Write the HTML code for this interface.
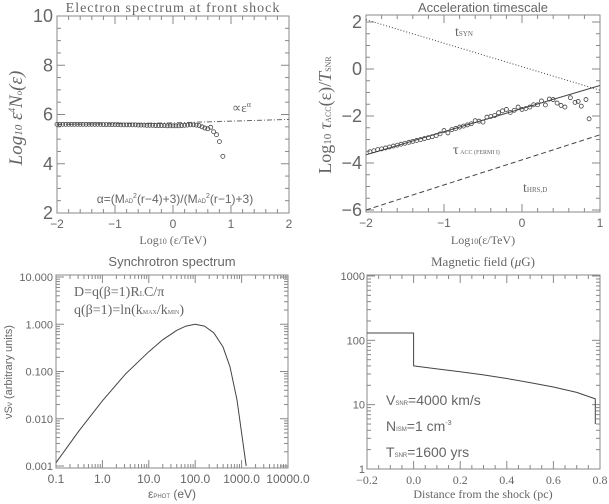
<!DOCTYPE html>
<html><head><meta charset="utf-8"><style>
html,body{margin:0;padding:0;background:#fff;}
svg{display:block;font-family:"Liberation Sans",sans-serif;}
text{fill:#666;}
</style></head><body>
<svg id="s" width="609" height="504" viewBox="0 0 609 504"></svg>
<script>
// Panel 1 data
const p1X = [-2,-1.95,-1.9,-1.85,-1.8,-1.75,-1.7,-1.65,-1.6,-1.55,-1.5,-1.45,-1.4,-1.35,-1.3,-1.25,-1.2,-1.15,-1.1,-1.05,-1,-0.95,-0.9,-0.85,-0.8,-0.75,-0.7,-0.65,-0.6,-0.55,-0.5,-0.45,-0.4,-0.35,-0.3,-0.25,-0.2,-0.15,-0.1,-0.05,0,0.05,0.1,0.15,0.2,0.25,0.3,0.35,0.4,0.45,0.5,0.55,0.6,0.65,0.7,0.75,0.8,0.86];
const p1Y = [5.6,5.6,5.6,5.6,5.6,5.6,5.6,5.6,5.6,5.6,5.6,5.6,5.6,5.6,5.6,5.6,5.59,5.59,5.59,5.59,5.59,5.59,5.58,5.58,5.58,5.58,5.58,5.58,5.57,5.57,5.57,5.56,5.56,5.56,5.55,5.55,5.55,5.55,5.54,5.54,5.54,5.54,5.54,5.55,5.56,5.57,5.58,5.58,5.57,5.55,5.5,5.45,5.42,5.48,5.3,5.18,4.9,4.3];
const p1LineX = [-2,0,2];
const p1LineY = [5.6,5.66,5.8];
// Panel 2 data
const p2X = [-1.95,-1.9,-1.85,-1.8,-1.75,-1.7,-1.65,-1.6,-1.55,-1.5,-1.45,-1.4,-1.35,-1.3,-1.25,-1.2,-1.15,-1.1,-1.05,-1.0,-0.95,-0.9,-0.85,-0.8,-0.75,-0.7,-0.65,-0.6,-0.55,-0.5,-0.45,-0.4,-0.35,-0.3,-0.25,-0.2,-0.15,-0.1,-0.05,0.0,0.05,0.1,0.15,0.2,0.25,0.3,0.35,0.4,0.45,0.5,0.55,0.62,0.68,0.72,0.76,0.82,0.86];
const p2Y = [-3.52,-3.48,-3.43,-3.40,-3.36,-3.32,-3.28,-3.24,-3.20,-3.16,-3.12,-3.08,-3.04,-3.00,-2.96,-2.92,-2.88,-2.83,-2.76,-2.62,-2.72,-2.58,-2.53,-2.47,-2.43,-2.38,-2.33,-2.20,-2.22,-2.26,-2.05,-2.02,-1.98,-1.86,-1.78,-1.72,-1.85,-1.76,-1.62,-1.72,-1.68,-1.62,-1.52,-1.52,-1.36,-1.53,-1.28,-1.30,-1.45,-1.55,-1.62,-1.22,-1.42,-1.38,-1.58,-1.30,-2.12];
const accX = [-2,1], accY = [-3.65,-0.7];
const synX = [-2,1], synY = [2.1,-0.9];
const diffX = [-2,1], diffY = [-6,-2.8];
// Panel 3 data (log10 eV, log10 S)
const p3X = [-1,-0.5,0,0.5,1,1.3,1.6,1.8,2,2.2,2.4,2.6,2.75,2.9,3.0,3.1];
const p3Y = [-2.93,-2.25,-1.62,-1.05,-0.58,-0.33,-0.13,-0.04,0,-0.04,-0.18,-0.48,-0.9,-1.6,-2.3,-3.0];
// Panel 4 data
const p4X = [-0.2,0,0,0.1,0.2,0.3,0.4,0.5,0.6,0.7,0.78,0.78];
const p4Y = [130,130,40,36,32.5,29,25.5,22,18.8,15.5,12.3,5];

const S=document.getElementById('s');
const NS='http://www.w3.org/2000/svg';
function mk(t,a,par){const e=document.createElementNS(NS,t);for(const k in a)e.setAttribute(k,a[k]);(par||S).appendChild(e);return e;}
function txt(x,y,s,o,par){o=o||{};const e=mk('text',Object.assign({x:x,y:y,'font-size':o.fs||11,'text-anchor':o.a||'middle'},o.attr||{}),par);e.innerHTML=s;return e;}
function lin(d0,d1,r0,r1){return v=>r0+(v-d0)/(d1-d0)*(r1-r0);}
function grp(name){const g=mk('g',{});return g;}
function box(g,x0,y0,x1,y1){mk('rect',{x:x0,y:y0,width:x1-x0,height:y1-y0,fill:'none',stroke:'#888','stroke-width':1},g);}
function tick(g,x1,y1,x2,y2){mk('line',{x1:x1,y1:y1,x2:x2,y2:y2,stroke:'#888','stroke-width':1},g);}
function linTicks(g,sx,sy,x0,y0,x1,y1,xt,xminor,yt,yminor,xlab,ylab){
  for(let v=xminor[0];v<=xminor[1]+1e-9;v+=xminor[2]){const x=sx(v);const big=xt.some(t=>Math.abs(t-v)<1e-6);const L=big?8:4;tick(g,x,y1,x,y1-L);tick(g,x,y0,x,y0+L);}
  for(let v=yminor[0];v<=yminor[1]+1e-9;v+=yminor[2]){const y=sy(v);const big=yt.some(t=>Math.abs(t-v)<1e-6);const L=big?8:4;tick(g,x0,y,x0+L,y);tick(g,x1,y,x1-L,y);}
  xt.forEach((v,i)=>txt(sx(v),y1+15,xlab[i],{fs:12},g));
  yt.forEach((v,i)=>txt(x0-4,sy(v)+6,ylab[i],{fs:18,a:'end'},g));
}
function path(g,xs,ys,sx,sy,attr){let d='';xs.forEach((v,i)=>{d+=(i?'L':'M')+sx(v).toFixed(1)+','+sy(ys[i]).toFixed(1);});return mk('path',Object.assign({d:d,fill:'none',stroke:'#444','stroke-width':1,'stroke-linejoin':'round'},attr||{}),g);}

// ---------- Panel 1
(function(){
const g=grp('electron-spectrum-panel');
const x0=57,x1=289,y0=16,y1=213;
const sx=lin(-2,2,x0,x1), sy=lin(2,10,y1,y0);
box(g,x0,y0,x1,y1);
linTicks(g,sx,sy,x0,y0,x1,y1,[-2,-1,0,1,2],[-2,2,0.2],[2,4,6,8,10],[2,10,0.5],['−2','−1','0','1','2'],['2','4','6','8','10']);
txt(173,12,'Electron spectrum at front shock',{fs:14,attr:{'font-family':'Liberation Serif','letter-spacing':'1'}},g);
txt(173,244,'Log<tspan font-size="8">10</tspan> (ε/TeV)',{fs:12,attr:{'font-family':'Liberation Serif'}},g);
const yl=txt(0,0,'Log<tspan font-size="11">10</tspan> ε<tspan font-size="9" dy="-7">4</tspan><tspan dy="7">N</tspan><tspan font-size="9">o</tspan>(ε)',{fs:19,attr:{'font-family':'Liberation Serif','font-style':'italic',transform:'translate(22,118) rotate(-90)'}},g);

path(g,p1LineX,p1LineY,sx,sy,{'stroke-dasharray':'5,2,1,2',stroke:'#666'});
p1X.forEach((v,i)=>{const c=mk('circle',{cx:sx(v),cy:sy(p1Y[i]),r:2,fill:'none',stroke:'#444','stroke-width':0.8},g);});
txt(232,112,'∝ε<tspan font-size="8" dy="-5">α</tspan>',{fs:13,a:'start',attr:{'font-family':'Liberation Serif'}},g);
txt(175,203,'α=(M<tspan font-size="6">AD</tspan><tspan font-size="7" dy="-5">2</tspan><tspan dy="5">(r−4)+3)/(M</tspan><tspan font-size="6">AD</tspan><tspan font-size="7" dy="-5">2</tspan><tspan dy="5">(r−1)+3)</tspan>',{fs:12,attr:{fill:'#333'}},g);
})();

// ---------- Panel 2
(function(){
const g=grp('acceleration-timescale-panel');
const x0=366,x1=600,y0=15,y1=212;
const sx=lin(-2,1,x0,x1), sy=lin(-6,2,210,22);
box(g,x0,y0,x1,y1);
linTicks(g,sx,sy,x0,y0,x1,y1,[-2,-1,0,1],[-2,1,0.2],[-6,-4,-2,0,2],[-6,2,0.5],['−2','−1','0','1'],['−6','−4','−2','0','2']);
txt(483,12,'Acceleration timescale',{fs:13},g);
txt(483,244,'Log<tspan font-size="8">10</tspan>(ε/TeV)',{fs:12,attr:{'font-family':'Liberation Serif'}},g);
const yl=txt(0,0,'Log<tspan font-size="11">10</tspan> <tspan font-style="italic">τ</tspan><tspan font-size="8">ACC</tspan>(ε)/<tspan font-style="italic">T</tspan><tspan font-size="8">SNR</tspan>',{fs:18,attr:{'font-family':'Liberation Serif',transform:'translate(331,115) rotate(-90)'}},g);

path(g,synX,synY,sx,sy,{'stroke-dasharray':'1,2'});
path(g,accX,accY,sx,sy,{});
path(g,diffX,diffY,sx,sy,{'stroke-dasharray':'5,3'});
p2X.forEach((v,i)=>{const c=mk('circle',{cx:sx(v),cy:sy(p2Y[i]),r:2,fill:'none',stroke:'#444','stroke-width':0.8},g);});
txt(455,36,'t<tspan font-size="7">SYN</tspan>',{fs:14,a:'start',attr:{'font-family':'Liberation Serif'}},g);
txt(453,154,'τ<tspan font-size="6"> ACC (FERMI I)</tspan>',{fs:14,a:'start',attr:{'font-family':'Liberation Serif',fill:'#333'}},g);
txt(523,192,'t<tspan font-size="7">HRS,D</tspan>',{fs:14,a:'start',attr:{'font-family':'Liberation Serif'}},g);
})();

// ---------- Panel 3
(function(){
const g=grp('synchrotron-spectrum-panel');
const x0=56,x1=288,y0=275,y1=468;
const sx=lin(-1,4,x0,x1), sy=lin(-3,1,466,277);
box(g,x0,y0,x1,y1);
for(let d=-1;d<=4;d++){for(let m=1;m<10;m++){const v=d+Math.log10(m);if(v>4+1e-9)break;const x=sx(v);const L=m==1?8:4;tick(g,x,y1,x,y1-L);tick(g,x,y0,x,y0+L);}}
for(let d=-3;d<=1;d++){for(let m=1;m<10;m++){const v=d+Math.log10(m);if(v>1+1e-9)break;const y=sy(v);const L=m==1?8:4;tick(g,x0,y,x0+L,y);tick(g,x1,y,x1-L,y);}}
const xl=['0.1','1.0','10.0','100.0','1000.0','10000.0'];
xl.forEach((s,i)=>txt(sx(i-1),y1+15,s,{fs:12},g));
const yls=['0.001','0.010','0.100','1.000','10.000'];
yls.forEach((s,i)=>txt(x0-3,sy(i-3)+4,s,{fs:11,a:'end'},g));
txt(172,266,'Synchrotron spectrum',{fs:13},g);
txt(172,498,'ε<tspan font-size="6">PHOT</tspan> (eV)',{fs:12},g);
const yl=txt(0,0,'νS<tspan font-size="8">ν</tspan> (arbitrary units)',{fs:11,attr:{transform:'translate(12,372) rotate(-90)'}},g);

path(g,p3X,p3Y,sx,sy,{});
txt(74,296,'D=q(β=1)R<tspan font-size="7">L</tspan>C/π',{fs:14,a:'start',attr:{'font-family':'Liberation Serif'}},g);
txt(74,314,'q(β=1)=ln(k<tspan font-size="6">MAX</tspan>/k<tspan font-size="6">MIN</tspan>)',{fs:14,a:'start',attr:{'font-family':'Liberation Serif'}},g);
})();

// ---------- Panel 4
(function(){
const g=grp('magnetic-field-panel');
const x0=367,x1=600,y0=275,y1=469;
const sx=lin(-0.2,0.8,x0,x1), sy=lin(0,3,469,276);
box(g,x0,y0,x1,y1);
for(let v=-0.2;v<=0.8+1e-9;v+=0.05){const x=sx(v);const big=Math.abs(Math.round(v*5)-v*5)<1e-6;const L=big?8:4;tick(g,x,y1,x,y1-L);tick(g,x,y0,x,y0+L);}
for(let d=0;d<=3;d++){for(let m=1;m<10;m++){const v=d+Math.log10(m);if(v>3+1e-9)break;const y=sy(v);const L=m==1?8:4;tick(g,x0,y,x0+L,y);tick(g,x1,y,x1-L,y);}}
['−0.2','0.0','0.2','0.4','0.6','0.8'].forEach((s,i)=>txt(sx(-0.2+0.2*i),y1+15,s,{fs:12,attr:{'font-family':'Liberation Serif'}},g));
['1','10','100','1000'].forEach((s,i)=>txt(x0-2,sy(i)+4,s,{fs:11,a:'end'},g));
txt(483,266,'Magnetic field (<tspan font-style="italic">μ</tspan>G)',{fs:13,attr:{'font-family':'Liberation Serif'}},g);
txt(483,498,'Distance from the shock (pc)',{fs:12,attr:{'font-family':'Liberation Serif'}},g);
path(g,p4X,p4Y.map(v=>Math.log10(v)),sx,sy,{});
txt(386,405,'V<tspan font-size="6">SNR</tspan>=4000 km/s',{fs:14,a:'start'},g);
txt(386,431,'N<tspan font-size="6">ISM</tspan>=1 cm<tspan font-size="7" dy="-6">-3</tspan>',{fs:14,a:'start'},g);
txt(386,457,'T<tspan font-size="6">SNR</tspan>=1600 yrs',{fs:14,a:'start'},g);
})();
</script>
</body></html>
